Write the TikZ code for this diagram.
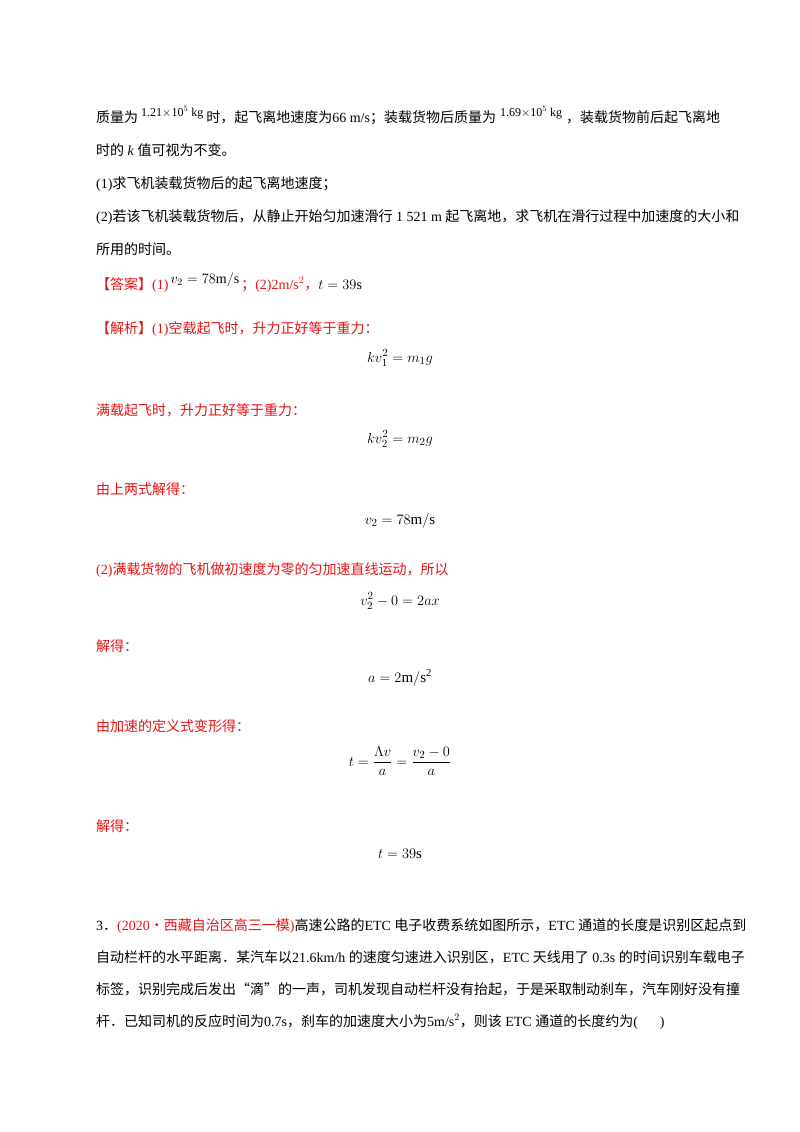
\documentclass[tikz,border=0pt]{standalone}
\usepackage{fontspec}
\setmainfont{Liberation Serif}
\newfontfamily\cjk{Noto Sans CJK SC}
\usepackage{amsmath}
\definecolor{ansred}{RGB}{230,20,20}
\newcommand{\zh}[1]{{\cjk #1}}
\begin{document}
\begin{tikzpicture}[x=1pt,y=-1pt,
  txt/.style={anchor=base west,inner sep=0pt,font=\fontsize{14}{16}\selectfont},
  eq/.style={anchor=base,inner sep=0pt,font=\fontsize{15}{17}\selectfont},
  red/.style={text=ansred}]
\useasboundingbox[fill=white] (0,0) rectangle (800,1132);
\node[txt] (l1) at (96,122) {\zh{质量为}\hspace{3pt}\raisebox{6pt}{\fontsize{12}{12}\selectfont 1.21$\times$10$^5$ kg}\hspace{3pt}\zh{时，起飞离地速度为}66 m/s\zh{；装载货物后质量为}\hspace{4pt}\raisebox{6pt}{\fontsize{12}{12}\selectfont 1.69$\times$10$^5$ kg}\hspace{4pt}\zh{，装载货物前后起飞离地}};
\node[txt] (l2) at (96,155) {\zh{时的} \textit{k} \zh{值可视为不变。}};
\node[txt] (l3) at (96,188) {(1)\zh{求飞机装载货物后的起飞离地速度；}};
\node[txt] (l4) at (96,221) {(2)\zh{若该飞机装载货物后，从静止开始匀加速滑行} 1 521 m \zh{起飞离地，求飞机在滑行过程中加速度的大小和}};
\node[txt] (l5) at (96,254) {\zh{所用的时间。}};
\node[txt] (ans) at (96,289) {\textcolor{ansred}{\zh{【答案】}(1)}\hspace{2pt}\raisebox{6pt}{$v_2=78\mathrm{m/s}$}\hspace{2pt}\textcolor{ansred}{\zh{；}(2)2m/s$^2$\zh{，}}$t=39\mathrm{s}$};
\node[txt,red] (jx) at (96,333) {\zh{【解析】}(1)\zh{空载起飞时，升力正好等于重力：}};
\node[eq] (e1) at (400,362) {$kv_1^2=m_1g$};
\node[txt,red] (t2) at (96,415) {\zh{满载起飞时，升力正好等于重力：}};
\node[eq] (e2) at (400,443) {$kv_2^2=m_2g$};
\node[txt,red] (t3) at (96,494) {\zh{由上两式解得：}};
\node[eq] (e3) at (400,524) {$v_2=78\mathrm{m/s}$};
\node[txt,red] (t4) at (96,574) {(2)\zh{满载货物的飞机做初速度为零的匀加速直线运动，所以}};
\node[eq] (e4) at (400,605) {$v_2^2-0=2ax$};
\node[txt,red] (t5) at (96,651) {\zh{解得：}};
\node[eq] (e5) at (400,682) {$a=2\mathrm{m/s^2}$};
\node[txt,red] (t6) at (96,731) {\zh{由加速的定义式变形得：}};
\node[eq] (e6) at (400,766) {$t=\dfrac{\Lambda v}{a}=\dfrac{v_2-0}{a}$};
\node[txt,red] (t7) at (96,831) {\zh{解得：}};
\node[eq] (e7) at (400,858) {$t=39\mathrm{s}$};
\node[txt] (q1) at (96,930) {3\zh{．}\textcolor{ansred}{(2020\zh{·西藏自治区高三一模})}\zh{高速公路的}ETC \zh{电子收费系统如图所示，}ETC \zh{通道的长度是识别区起点到}};
\node[txt] (q2) at (96,962) {\zh{自动栏杆的水平距离．某汽车以}21.6km/h \zh{的速度匀速进入识别区，}ETC \zh{天线用了} 0.3s \zh{的时间识别车载电子}};
\node[txt] (q3) at (96,994) {\zh{标签，识别完成后发出“滴”的一声，司机发现自动栏杆没有抬起，于是采取制动刹车，汽车刚好没有撞}};
\node[txt] (q4) at (96,1026) {\zh{杆．已知司机的反应时间为}0.7s\zh{，刹车的加速度大小为}5m/s$^2$\zh{，则该} ETC \zh{通道的长度约为}(\hspace{22pt})};
\end{tikzpicture}
\end{document}
